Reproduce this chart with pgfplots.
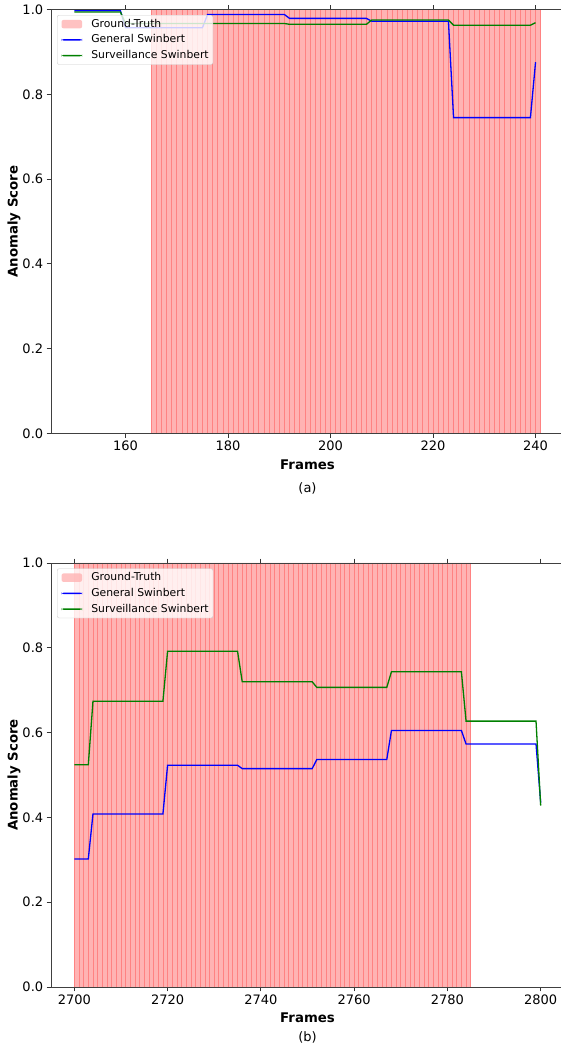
\documentclass[border=0pt]{standalone}
\usepackage{fontspec}
\setmainfont{DejaVu Sans}
\usepackage{pgfplots}
\pgfplotsset{compat=1.18}

\definecolor{mplgreen}{RGB}{0,128,0}
\definecolor{gtfill}{RGB}{255,179,179}
\definecolor{gtedge}{RGB}{255,130,130}

\newcommand{\fs}{\fontsize{13}{15}\selectfont}
\newcommand{\fl}{\fontsize{13.3}{15}\selectfont}
\newcommand{\fleg}{\fontsize{10.8}{13}\selectfont}

\pgfplotsset{
  swin/.style={
    scale only axis, width=513pt, height=424pt,
    anchor=south west,
    ymin=0, ymax=1,
    ytick={0,0.2,0.4,0.6,0.8,1},
    yticklabel style={/pgf/number format/.cd, fixed, fixed zerofill, precision=1},
    xticklabel style={/pgf/number format/.cd, set thousands separator={}},
    /pgf/number format/assume math mode=true,
    tick align=outside, major tick length=4.3pt,
    tick style={black!80, line width=0.8pt},
    axis line style={black!75, line width=0.8pt},
    axis on top,
    tick label style={font=\fs},
    label style={font=\fl\bfseries},
    xlabel={Frames}, ylabel={Anomaly Score},
    xlabel style={at={(axis description cs:0.5,-0.0731)}, anchor=center},
    ylabel style={at={(axis description cs:-0.0721,0.5)}, anchor=center},
    legend style={at={(axis description cs:0.0117,0.987)}, anchor=north west,
      draw=black!20, fill=white, fill opacity=0.8, text opacity=1,
      rounded corners=2pt, font=\fleg, inner xsep=4.3pt, inner ysep=3.7pt,
      row sep=5.2pt, column sep=9.2pt,
      nodes={inner sep=0pt, text height=8.2pt, text depth=2.3pt, anchor=west}},
    legend cell align=left,
  },
  gt/.style={ybar interval, fill=gtfill, draw=gtedge, line width=0.8pt,
    legend image code/.code={\fill[gtfill, draw=none] (0pt,-4.2pt) rectangle (20.6pt,4.2pt);}},
  gen/.style={blue, line width=1.3pt,
    legend image code/.code={\fill[blue, draw=none, fill opacity=1] (0pt,-0.7pt) rectangle (20.6pt,0.7pt);}},
  surv/.style={mplgreen, line width=1.3pt,
    legend image code/.code={\fill[mplgreen, draw=none, fill opacity=1] (0pt,-0.7pt) rectangle (20.6pt,0.7pt);}},
}

\begin{document}
\begin{tikzpicture}
\path[use as bounding box] (0pt,0pt) rectangle (561pt,1045pt);

% (a)
\begin{axis}[swin, name=top, at={(51pt,611.5pt)},
  xmin=145.45, xmax=245.55, xtick={160,180,200,220,240}]
\addplot[gt] coordinates {
 (165,1) (166,1) (167,1) (168,1) (169,1) (170,1) (171,1) (172,1) (173,1) (174,1)
 (175,1) (176,1) (177,1) (178,1) (179,1) (180,1) (181,1) (182,1) (183,1) (184,1)
 (185,1) (186,1) (187,1) (188,1) (189,1) (190,1) (191,1) (192,1) (193,1) (194,1)
 (195,1) (196,1) (197,1) (198,1) (199,1) (200,1) (201,1) (202,1) (203,1) (204,1)
 (205,1) (206,1) (207,1) (208,1) (209,1) (210,1) (211,1) (212,1) (213,1) (214,1)
 (215,1) (216,1) (217,1) (218,1) (219,1) (220,1) (221,1) (222,1) (223,1) (224,1)
 (225,1) (226,1) (227,1) (228,1) (229,1) (230,1) (231,1) (232,1) (233,1) (234,1)
 (235,1) (236,1) (237,1) (238,1) (239,1) (240,1) (241,1)
};
\addlegendentry{Ground-Truth}
\addplot[gen] coordinates {
 (150,0.997) (159,0.997) (160,0.957) (175,0.957) (176,0.988) (191,0.988)
 (192,0.979) (207,0.979) (208,0.9725) (223,0.9725) (224,0.745) (239,0.745) (240,0.876)
};
\addlegendentry{General Swinbert}
\addplot[surv] coordinates {
 (150,0.994) (159,0.994) (160,0.967) (191,0.967) (192,0.965) (207,0.965)
 (208,0.975) (223,0.975) (224,0.963) (239,0.963) (240,0.969)
};
\addlegendentry{Surveillance Swinbert}
\end{axis}
\node[font=\fs] at ([yshift=-55pt]top.south) {(a)};

% (b)
\begin{axis}[swin, name=bot, at={(51pt,58pt)},
  xmin=2695, xmax=2805, xtick={2700,2720,2740,2760,2780,2800}]
\addplot[gt] coordinates {
 (2700,1) (2701,1) (2702,1) (2703,1) (2704,1) (2705,1) (2706,1) (2707,1) (2708,1) (2709,1)
 (2710,1) (2711,1) (2712,1) (2713,1) (2714,1) (2715,1) (2716,1) (2717,1) (2718,1) (2719,1)
 (2720,1) (2721,1) (2722,1) (2723,1) (2724,1) (2725,1) (2726,1) (2727,1) (2728,1) (2729,1)
 (2730,1) (2731,1) (2732,1) (2733,1) (2734,1) (2735,1) (2736,1) (2737,1) (2738,1) (2739,1)
 (2740,1) (2741,1) (2742,1) (2743,1) (2744,1) (2745,1) (2746,1) (2747,1) (2748,1) (2749,1)
 (2750,1) (2751,1) (2752,1) (2753,1) (2754,1) (2755,1) (2756,1) (2757,1) (2758,1) (2759,1)
 (2760,1) (2761,1) (2762,1) (2763,1) (2764,1) (2765,1) (2766,1) (2767,1) (2768,1) (2769,1)
 (2770,1) (2771,1) (2772,1) (2773,1) (2774,1) (2775,1) (2776,1) (2777,1) (2778,1) (2779,1)
 (2780,1) (2781,1) (2782,1) (2783,1) (2784,1) (2785,1)
};
\addlegendentry{Ground-Truth}
\addplot[gen] coordinates {
 (2700,0.302) (2703,0.302) (2704,0.408) (2719,0.408) (2720,0.523) (2735,0.523)
 (2736,0.515) (2751,0.515) (2752,0.5365) (2767,0.5365) (2768,0.605) (2783,0.605)
 (2784,0.573) (2799,0.573) (2800,0.435)
};
\addlegendentry{General Swinbert}
\addplot[surv] coordinates {
 (2700,0.524) (2703,0.524) (2704,0.674) (2719,0.674) (2720,0.792) (2735,0.792)
 (2736,0.72) (2751,0.72) (2752,0.7066) (2767,0.7066) (2768,0.7435) (2783,0.7435)
 (2784,0.627) (2799,0.627) (2800,0.428)
};
\addlegendentry{Surveillance Swinbert}
\end{axis}
\node[font=\fs] at ([yshift=-50pt]bot.south) {(b)};
\end{tikzpicture}
\end{document}
